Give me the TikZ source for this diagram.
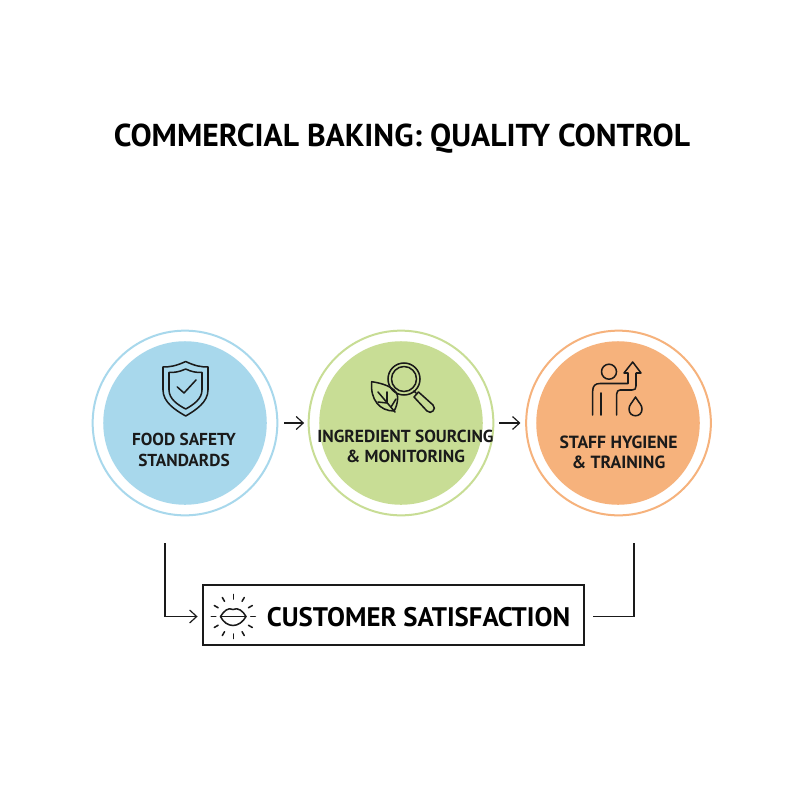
\documentclass[tikz,border=0pt]{standalone}
\usepackage{fontspec}
\setmainfont{PT Sans}
\usetikzlibrary{arrows.meta,calc}
\definecolor{bluefill}{HTML}{A8D8EC}
\definecolor{greenfill}{HTML}{C8DD95}
\definecolor{orangefill}{HTML}{F6B27C}
\definecolor{inkc}{HTML}{1A1A1A}
\tikzset{
  ring/.style={circle,draw=#1,line width=1.7pt,minimum size=157pt,inner sep=0pt},
  disc/.style={circle,fill=#1,minimum size=139pt,inner sep=0pt},
  lab/.style={align=center,font=\bfseries\fontsize{#1}{17.5}\selectfont,text=inkc},
  conn/.style={draw=inkc,line width=1pt},
  arr/.style={conn,-{Straight Barb[length=6pt,width=11pt,line width=1pt]}},
  icon/.style={draw=inkc,line width=1.3pt,line join=round,line cap=round}
}
\begin{document}
\begin{tikzpicture}[x=0.85pt,y=-0.85pt]
\useasboundingbox (0,0) rectangle (800,800);
\fill[white] (0,0) rectangle (800,800);
\node[font=\bfseries\fontsize{26.9}{30}\selectfont,text=black] (title) at (402,139) {COMMERCIAL BAKING: QUALITY CONTROL};
% circles
\node[ring=bluefill] (blue) at (185,423) {};
\node[disc=bluefill] (bluei) at (185,423) {};
\node[ring=greenfill] (green) at (401,423) {};
\node[disc=greenfill] (greeni) at (401,423) {};
\node[ring=orangefill] (orange) at (618.5,423) {};
\node[disc=orangefill] (orangei) at (618,423) {};
\node[lab=14.7] (l1) at (184,450) {FOOD SAFETY\\STANDARDS};
\node[lab=14.8] (l2) at (405.5,446.5) {INGREDIENT SOURCING\\\& MONITORING};
\node[lab=15] (l3) at (618.5,452.5) {STAFF HYGIENE\\\& TRAINING};
% box
\node[draw=inkc,line width=1.1pt,minimum width=324pt,minimum height=51pt,inner sep=0pt] (box) at (393.5,615) {};
\node[font=\bfseries\fontsize{22.8}{26}\selectfont,text=black] (boxt) at (418.5,617) {CUSTOMER SATISFACTION};
% connectors
\draw[arr,shorten <=5pt,shorten >=3pt] (blue) -- (green);
\draw[arr,shorten <=4pt,shorten >=4pt] (green) -- (orange);
\coordinate (cl) at (165,543);
\coordinate (cr) at (634,543);
\coordinate (bl) at (box.west |- 0,616.5);
\coordinate (br) at (box.east |- 0,616.5);
\draw[arr,shorten >=4pt] (cl) |- (bl);
\draw[conn,shorten >=7pt] (cr) |- (br);
% shield
\draw[icon] (185.7,361.5) .. controls (176,366) and (170,367) .. (163,367) -- (163,390) .. controls (163,402) and (175,410) .. (185.7,416) .. controls (196,410) and (208,402) .. (208,390) -- (208,367) .. controls (201,367) and (195,366) .. (185.7,361.5) -- cycle;
\draw[icon] (185.7,369) .. controls (179,372) and (175,372.5) .. (169,372.5) -- (169,390) .. controls (169,399) and (178,405) .. (185.7,409) .. controls (193,405) and (202,399) .. (202,390) -- (202,372.5) .. controls (196,372.5) and (192,372) .. (185.7,369) -- cycle;
\draw[icon] (177.3,387) -- (184,393) -- (196,380);
% leaf
\draw[icon] (371.7,381.7) .. controls (388,384) and (398,390) .. (397.7,398) .. controls (397.5,403) and (396,408) .. (394,411) .. controls (380,411) and (370,400) .. (371.7,381.7) -- cycle;
\draw[icon] (378,392) -- (395,412);
\draw[icon] (387,403) -- (378,402) (387,403) -- (387,392);
\draw[icon] (391,407) -- (396,399);
% magnifier
\draw[icon] (404,379) circle (16);
\draw[icon] (404,379) circle (12.5);
\draw[icon] (414,391) -- (416,393);
\draw[icon] (418.5,392) -- (433,405) .. controls (437,409) and (431,415) .. (427,411) -- (414,397) -- cycle;
% person
\draw[icon] (609,371.7) circle (7.5);
\draw[icon] (592.7,415) -- (592.7,391) .. controls (592.7,386) and (595,383.5) .. (600,383.5) -- (628,383.5) -- (628,373) -- (624,373) -- (632.7,362) -- (641,373) -- (636,373) -- (636,386) .. controls (636,389) and (635,390) .. (632,390) -- (620,390) .. controls (618,390) and (616.7,391.5) .. (616.7,394) -- (616.7,415);
\draw[icon] (601,393) -- (601,415);
\draw[icon] (635.5,397) .. controls (632,403) and (629,405) .. (629,409) .. controls (629,418) and (642,418) .. (642,409) .. controls (642,405) and (639,403) .. (635.5,397) -- cycle;
% lips
\draw[icon] (220.5,616.5) .. controls (224,611) and (228,607) .. (233,609.5) .. controls (238,607) and (243,611) .. (246,616.5) .. controls (243,622) and (238,625.5) .. (233,625.5) .. controls (228,625.5) and (223,622) .. (220.5,616.5) -- cycle;
\draw[icon] (220.5,616.5) -- (246,616.5);
\foreach \a in {0,30,...,330}{
  \draw[icon] ($(233.3,616.5)+(\a:17.5)$) -- ($(233.3,616.5)+(\a:22)$);
}
\end{tikzpicture}
\end{document}
